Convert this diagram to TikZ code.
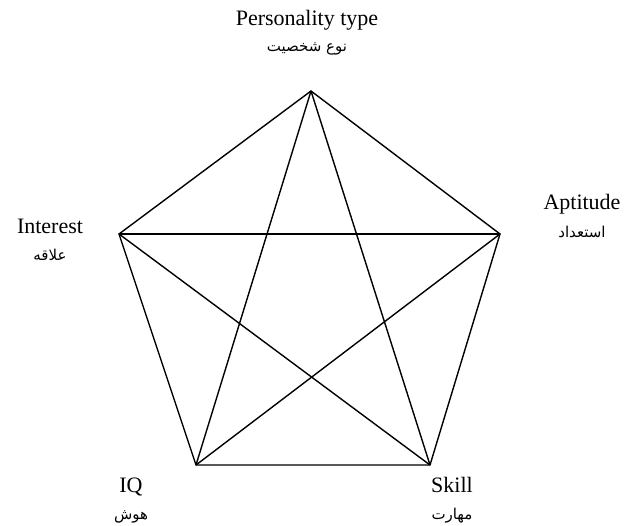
\documentclass[tikz,border=0pt]{standalone}
\usepackage{fontspec}
\setmainfont{Liberation Serif}
\newfontfamily\arabicfont[Script=Arabic]{DejaVu Sans}
\TeXXeTstate=1
\begin{document}
\begin{tikzpicture}[x=1pt,y=-1pt,
  edge/.style={draw=black,line width=1.4pt,line join=miter},
  en/.style={font=\fontsize{22}{24}\selectfont,inner sep=0pt,anchor=base},
  fa/.style={font=\arabicfont\fontsize{15}{17}\selectfont,inner sep=0pt,anchor=base}]
\useasboundingbox (0,0) rectangle (624,526);
\coordinate (P) at (311,91);
\coordinate (A) at (500,234);
\coordinate (I) at (119,234);
\coordinate (Q) at (196,465);
\coordinate (S) at (430,465);
\draw[edge] (P) -- (A) -- (S) -- (Q) -- (I) -- cycle;
\draw[edge] (P) -- (Q);
\draw[edge] (P) -- (S);
\draw[edge] (I) -- (A);
\draw[edge] (I) -- (S);
\draw[edge] (A) -- (Q);
\node[en] (tP) at (307,26) {Personality type};
\node[fa] (fP) at (307,52) {\beginR نوع شخصیت\endR};
\node[en] (tA) at (582,210) {Aptitude};
\node[fa] (fA) at (582,238) {\beginR استعداد\endR};
\node[en] (tI) at (50,234) {Interest};
\node[fa] (fI) at (50,261) {\beginR علاقه\endR};
\node[en] (tQ) at (131,492) {IQ};
\node[fa] (fQ) at (131,519) {\beginR هوش\endR};
\node[en] (tS) at (452,492) {Skill};
\node[fa] (fS) at (452,519) {\beginR مهارت\endR};
\end{tikzpicture}
\end{document}
